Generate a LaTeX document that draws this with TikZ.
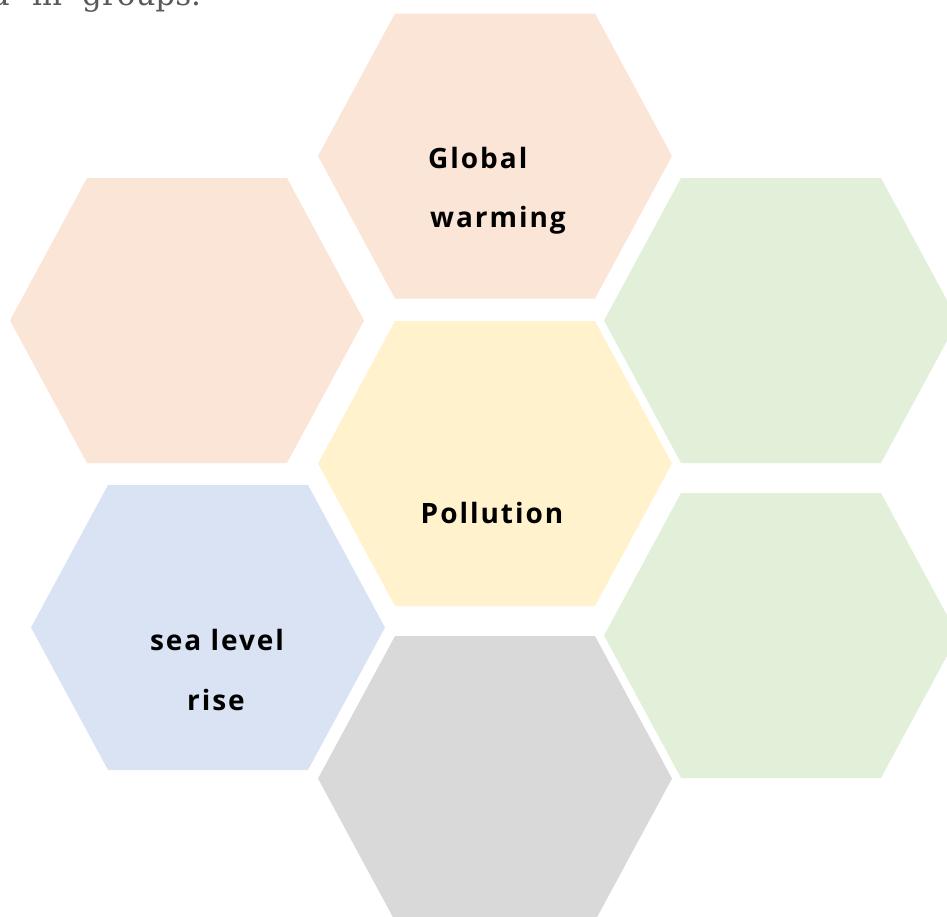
\documentclass[tikz,border=0pt]{standalone}
\usepackage{fontspec}
\setmainfont{Open Sans}[LetterSpace=7]
\newfontfamily\topserif{DejaVu Serif}
\definecolor{peach}{HTML}{FBE5D6}
\definecolor{paleyellow}{HTML}{FFF2CC}
\definecolor{palegreen}{HTML}{E2F0D9}
\definecolor{paleblue}{HTML}{DAE3F3}
\definecolor{palegray}{HTML}{D9D9D9}
\definecolor{toptext}{HTML}{595959}
\newcommand{\hexcell}[4]{% name, cx, cy, colour
  \fill[#4] ({#2-100},{#3-142.5}) -- ({#2+100},{#3-142.5}) -- ({#2+177},{#3})
    -- ({#2+100},{#3+142.5}) -- ({#2-100},{#3+142.5}) -- ({#2-177},{#3}) -- cycle;
  \coordinate (#1) at (#2,#3);}
\tikzset{
  label/.style={inner sep=0pt, font=\bfseries\fontsize{28}{30}\selectfont, text=black},
  topword/.style={inner sep=0pt, text=toptext, font=\topserif\fontsize{31}{33}\selectfont},
}
\begin{document}
\begin{tikzpicture}[x=1pt,y=-1pt]
\useasboundingbox (0,0) rectangle (947,916);
\begin{scope}
\clip (0,0) rectangle (947,916);
\node[topword, anchor=base east] (topd) at (10,5) {d};
\node[topword, anchor=base west] (topin) at (32,5) {in};
\node[topword, anchor=base west] (topgroups) at (82,5) {groups.};
\hexcell{hTop}{495}{156}{peach}
\hexcell{hLeft}{187}{320.5}{peach}
\hexcell{hCenter}{495}{463.5}{paleyellow}
\hexcell{hRightTop}{781}{320.5}{palegreen}
\hexcell{hRightBottom}{781}{635.5}{palegreen}
\hexcell{hBlue}{208}{627.5}{paleblue}
\hexcell{hGray}{495}{778.5}{palegray}
\end{scope}
\node[label, anchor=base west] (gw1) at (428,168) {Global};
\node[label, anchor=base west] (gw2) at (430,227) {warming};
\node[label, anchor=base] (pol) at (492,523) {Pollution};
\node[label, anchor=base] (sl1) at (217,650) {sea level};
\node[label, anchor=base] (sl2) at (216,710) {rise};
\end{tikzpicture}
\end{document}
